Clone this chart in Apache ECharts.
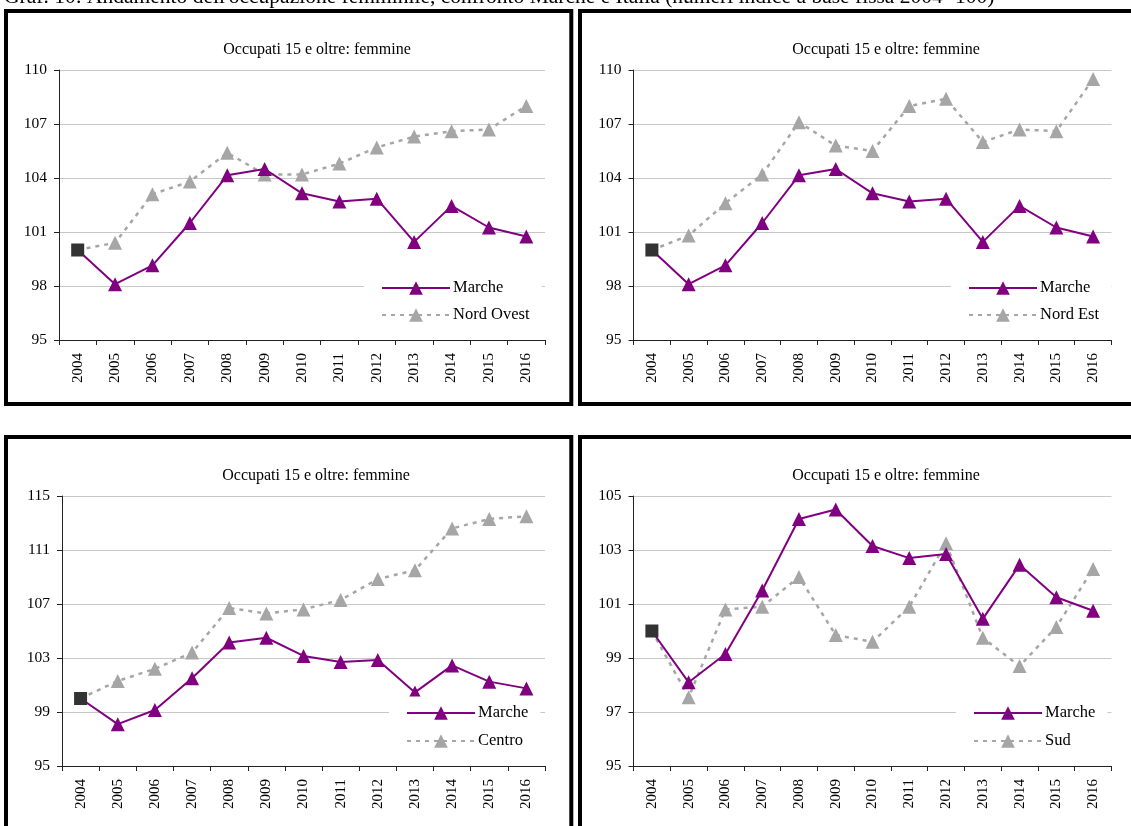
<!DOCTYPE html>
<html><head><meta charset="utf-8">
<script src="https://cdn.jsdelivr.net/npm/echarts@6/dist/echarts.min.js"></script>
<style>html,body{margin:0;padding:0;background:#fff}#c{width:1131px;height:826px}</style>
</head><body><div id="c"></div>
<script>
const years = ['2004','2005','2006','2007','2008','2009','2010','2011','2012','2013','2014','2015','2016'];
const marche    = [100, 98.1, 99.15, 101.5, 104.15, 104.5, 103.15, 102.7, 102.85, 100.45, 102.45, 101.25, 100.75];
const nordOvest = [100, 100.4, 103.1, 103.8, 105.4, 104.2, 104.2, 104.8, 105.7, 106.3, 106.6, 106.7, 108.0];
const nordEst   = [100, 100.8, 102.6, 104.2, 107.1, 105.8, 105.5, 108.0, 108.4, 106.0, 106.7, 106.6, 109.5];
const centro    = [100, 101.3, 102.2, 103.4, 106.7, 106.3, 106.6, 107.3, 108.85, 109.5, 112.6, 113.3, 113.5];
const sud       = [100, 97.55, 100.8, 100.9, 102.0, 99.85, 99.6, 100.9, 103.25, 99.75, 98.7, 100.15, 102.3];
const panelTitle = 'Occupati 15 e oltre: femmine';
const pageTitle = "Graf. 10: Andamento dell'occupazione femminile, confronto Marche e Italia (numeri indice a base fissa 2004=100)";
const panels = [
  {name:'Nord Ovest', data:nordOvest, min:95, max:110, interval:3},
  {name:'Nord Est',   data:nordEst,   min:95, max:110, interval:3},
  {name:'Centro',     data:centro,    min:95, max:115, interval:4},
  {name:'Sud',        data:sud,       min:95, max:105, interval:2}
];
const grids = [
  {left:59, top:70, width:486, height:270},
  {left:633.5, top:70, width:478, height:270},
  {left:62, top:496, width:483, height:270},
  {left:633.5, top:496, width:478, height:270}
];
const legendPos = [
  {left:364, top:271.5, gap:10},
  {left:951, top:271.5, gap:10},
  {left:389, top:696.5, gap:11},
  {left:956, top:696.5, gap:11}
];
const titlePos = [{x:317,y:50},{x:886,y:50},{x:316,y:476},{x:886,y:476}];
const FONT = '"Liberation Serif","Times New Roman",serif';
const PURPLE = '#800080', GRAY = '#A6A6A6';

const xAxis = [], yAxis = [], series = [], legend = [];
panels.forEach((p, i) => {
  xAxis.push({
    type:'category', gridIndex:i, data:years, boundaryGap:true,
    axisLine:{lineStyle:{color:'#222', width:1}},
    axisTick:{show:true, length:5, lineStyle:{color:'#222'}},
    axisLabel:{rotate:90, margin:13, color:'#000', fontFamily:FONT, fontSize:15, interval:0},
    splitLine:{show:false}
  });
  yAxis.push({
    type:'value', gridIndex:i, min:p.min, max:p.max, interval:p.interval,
    axisLine:{show:true, lineStyle:{color:'#222', width:1}},
    axisTick:{show:true, length:5, lineStyle:{color:'#222'}},
    axisLabel:{margin:12, color:'#000', fontFamily:FONT, fontSize:15.5},
    splitLine:{show:true, lineStyle:{color:'#C8C8C8', width:1}}
  });
  series.push({
    type:'line', name:p.name, xAxisIndex:i, yAxisIndex:i, z:2,
    data:p.data.map((v, k) => k === 0 ? {value:v, symbol:'none'} : v),
    symbol:'triangle', symbolSize:14, showSymbol:true,
    lineStyle:{color:GRAY, width:2.5, type:[4,5]},
    itemStyle:{color:GRAY}, animation:false
  });
  series.push({
    type:'line', name:'Marche', xAxisIndex:i, yAxisIndex:i, z:3,
    data:marche.map((v, k) => k === 0 ? {value:v, symbol:'rect', symbolSize:13, itemStyle:{color:'#333'}} : v),
    symbol:'triangle', symbolSize:14, showSymbol:true,
    lineStyle:{color:PURPLE, width:2},
    itemStyle:{color:PURPLE}, animation:false
  });
  legend.push({
    orient:'vertical', left:legendPos[i].left, top:legendPos[i].top,
    data:['Marche', p.name], itemWidth:68, itemHeight:17, itemGap:legendPos[i].gap,
    backgroundColor:'#fff', padding:[8,12,8,17],
    textStyle:{fontFamily:FONT, fontSize:16.5, color:'#000', padding:[0,0,0,-2]},
    selectedMode:false
  });
});

const graphic = [
  {type:'text', left:4, top:-13.5, style:{text:pageTitle, font:'21.5px ' + FONT, fill:'#000'}},
  {type:'rect', shape:{x:6, y:11, width:565.3, height:393}, style:{fill:'none', stroke:'#000', lineWidth:4}, z:-1},
  {type:'rect', shape:{x:580, y:11, width:700, height:393}, style:{fill:'none', stroke:'#000', lineWidth:4}, z:-1},
  {type:'rect', shape:{x:6, y:437, width:565.3, height:500}, style:{fill:'none', stroke:'#000', lineWidth:4}, z:-1},
  {type:'rect', shape:{x:580, y:437, width:700, height:500}, style:{fill:'none', stroke:'#000', lineWidth:4}, z:-1}
];
titlePos.forEach(t => graphic.push({type:'text', x:t.x, y:t.y,
  style:{text:panelTitle, font:'16px ' + FONT, fill:'#000', textAlign:'center', textVerticalAlign:'middle'}}));

const chart = echarts.init(document.getElementById('c'), null, {renderer:'canvas'});
chart.setOption({
  animation:false,
  grid:grids, xAxis, yAxis, series, legend, graphic
});
</script></body></html>
